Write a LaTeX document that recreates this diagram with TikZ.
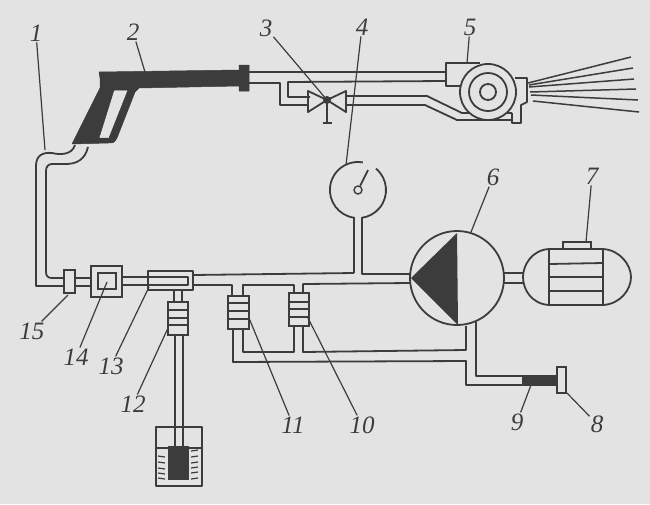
\documentclass[tikz,border=0pt]{standalone}
\usepackage{fontspec}
\setmainfont{Liberation Serif}
\definecolor{paper}{HTML}{E3E3E3}
\definecolor{ink}{HTML}{3C3C3C}
\begin{document}
\begin{tikzpicture}[
          x=1pt, y=-1pt,
          pipe/.style={draw=ink, line width=1.8pt, line join=round},
          leader/.style={draw=ink, line width=1.2pt},
          spray/.style={draw=ink, line width=1.5pt},
          partlabel/.style={text=ink, inner sep=1pt, font=\fontsize{25}{25}\selectfont\itshape},
          boxpart/.style={rectangle, draw=ink, line width=1.8pt, fill=paper, inner sep=0pt},
          darkpart/.style={fill=ink, draw=ink, line width=0.5pt, line join=round}
      ]
      \useasboundingbox[fill=paper] (0,0) rectangle (650,504);

      % Gun and hose
      \draw[darkpart, even odd rule] (99,72) -- (239,70) -- (239,65) -- (249,65) -- (249,91) -- (239,91) -- (239,86) -- (139,88) -- (135,92)
          -- (117,138) .. controls (114,143) .. (108,143) -- (72,144) -- (100,88) -- (100,78) -- cycle
          (114,90) -- (128,90) -- (109,138) -- (99,138) -- cycle;
      \draw[pipe] (75,145) .. controls (72,155) and (60,155) .. (52,153) .. controls (42,152) and (36,156) .. (36,166) -- (36,286) -- (64,286);
      \draw[pipe] (88,147) .. controls (85,160) and (76,164) .. (66,164) -- (52,164) .. controls (48,164) and (46,167) .. (46,171)
          -- (46,272) .. controls (46,276) and (48,278) .. (52,278) -- (64,278);

      % Pipes to the valve and the nozzle
      \draw[pipe] (249,72) -- (446,72);
      \draw[pipe] (249,83) -- (280,83) -- (280,105) -- (308,105);
      \draw[pipe] (446,81) -- (288,82) -- (288,97) -- (310,97);
      \draw[pipe] (346,96) -- (427,96) -- (462,113) -- (512,113);
      \draw[pipe] (346,105) -- (425,105) -- (457,120) -- (512,120);

      % Valve
      \draw[pipe] (308,91) -- (327,100) -- (308,112) -- cycle;
      \draw[pipe] (346,91) -- (327,100) -- (346,112) -- cycle;
      \draw[pipe] (327,100) -- (327,123) (323,123) -- (332,123);
      \fill[ink] (327,100) circle[radius=4];

      % Nozzle
      \draw[pipe] (463,86) -- (446,86) -- (446,63) -- (480,63);
      \draw[pipe] (515,78) -- (527,78) -- (527,102) -- (521,105) -- (521,123) -- (512,123) -- (512,113);
      \node[circle, draw=ink, line width=1.8pt, fill=paper, minimum size=56pt, inner sep=0pt] (nozzle) at (488,92) {};
      \node[circle, draw=ink, line width=1.8pt, minimum size=38pt, inner sep=0pt] (nozzlering) at (488,92) {};
      \node[circle, draw=ink, line width=1.8pt, minimum size=16pt, inner sep=0pt] (nozzlecore) at (488,92) {};

      % Spray
      \draw[spray] (528,83) -- (631,57);
      \draw[spray] (529,85) -- (633,68);
      \draw[spray] (529,87) -- (634,79);
      \draw[spray] (530,92) -- (636,89);
      \draw[spray] (531,95) -- (638,100);
      \draw[spray] (533,101) -- (639,112);

      % Gauge
      \draw[pipe] (376,168.6) arc[start angle=-50, end angle=82, radius=28];
      \draw[pipe] (354,217.7) arc[start angle=98, end angle=280, radius=28];
      \node[circle, draw=ink, line width=1.4pt, minimum size=8pt, inner sep=0pt] (gaugepin) at (358,190) {};
      \coordinate (gaugetip) at (368,170);
      \draw[pipe] (gaugepin) -- (gaugetip);
      \draw[pipe] (354,217) -- (354,273);
      \draw[pipe] (362,217) -- (362,274) -- (411,274);

      % Main line
      \draw[pipe] (75,278) -- (91,278) (75,286) -- (91,286);
      \draw[pipe] (122,277) -- (188,277) -- (188,285) -- (122,285);
      \draw[pipe] (193,275) -- (354,273);
      \draw[pipe] (193,285) -- (232,285) -- (232,296);
      \draw[pipe] (174,290) -- (174,302) (182,290) -- (182,302);
      \draw[pipe] (243,296) -- (243,285) -- (294,285) -- (294,293);
      \draw[pipe] (303,293) -- (303,284) -- (410,283);

      % Return lines
      \draw[pipe] (233,329) -- (233,362) -- (466,361) -- (466,385) -- (522,385);
      \draw[pipe] (243,329) -- (243,352) -- (294,352) -- (294,326);
      \draw[pipe] (303,326) -- (303,352) -- (466,350) -- (466,326);
      \draw[pipe] (476,322) -- (476,376) -- (522,376);

      % Inline parts
      \node[boxpart, minimum width=11pt, minimum height=23pt] (coupling) at (69.5,281.5) {};
      \node[boxpart, minimum width=31pt, minimum height=31pt] (filterbox) at (106.5,281.5) {};
      \node[boxpart, fill=none, minimum width=18pt, minimum height=16pt] (filtercore) at (107,281) {};
      \draw[pipe] (148,271) rectangle (193,290);
      \node[boxpart, minimum width=20pt, minimum height=33pt] (damperc) at (178,318.5) {};
      \draw[pipe] (168,310) -- (188,310) (168,318) -- (188,318) (168,325) -- (188,325);
      \node[boxpart, minimum width=21pt, minimum height=33pt] (damperb) at (238.5,312.5) {};
      \draw[pipe] (228,303) -- (249,303) (228,311) -- (249,311) (228,319) -- (249,319);
      \node[boxpart, minimum width=20pt, minimum height=33pt] (dampera) at (299,309.5) {};
      \draw[pipe] (289,302) -- (309,302) (289,309) -- (309,309) (289,317) -- (309,317);

      % Tank
      \draw[pipe] (175,335) -- (175,446) (183,335) -- (183,446);
      \draw[pipe] (156,427) rectangle (202,486);
      \draw[leader] (156,448) -- (168,448) (188,448) -- (202,448);
      \node[darkpart, minimum width=20pt, minimum height=33pt, inner sep=0pt] (strainer) at (178,462.5) {};
      \draw[leader] (158,456) -- (165,457) (158,462) -- (165,463) (158,468) -- (165,469) (158,473) -- (165,474) (158,478) -- (165,479);
      \draw[leader] (191,451) -- (198,450) (191,457) -- (198,456) (191,463) -- (198,462) (191,468) -- (198,467) (191,473) -- (198,472) (191,479) -- (198,478);

      % Pump
      \node[circle, draw=ink, line width=1.8pt, fill=paper, minimum size=94pt, inner sep=0pt] (pump) at (457,278) {};
      \fill[ink] (457,233) -- (458,325) -- (411,278) -- cycle;
      \draw[pipe] (503,273) -- (523,273) (503,283) -- (523,283);

      % Motor
      \draw[pipe] (549,249) -- (603,249) .. controls (620,250) and (631,265) .. (631,277) .. controls (631,290) and (620,304) .. (603,305)
          -- (549,305) .. controls (532,304) and (523,290) .. (523,277) .. controls (523,265) and (532,250) .. (549,249) -- cycle;
      \draw[pipe] (549,249) -- (549,305) (603,249) -- (603,305);
      \draw[pipe] (549,264) -- (603,263) (549,277) -- (603,277) (549,291) -- (603,291);
      \node[boxpart, minimum width=28pt, minimum height=7pt] (terminal) at (577,245.5) {};

      % Outlet
      \node[darkpart, minimum width=35pt, minimum height=10pt, inner sep=0pt] (seal) at (539.5,380) {};
      \node[boxpart, minimum width=9pt, minimum height=26pt] (plug) at (561.5,380) {};

      % Labels
      \node[partlabel] (label1) at (36,33) {1};
      \node[partlabel] (label2) at (133,32) {2};
      \node[partlabel] (label3) at (266,28) {3};
      \node[partlabel] (label4) at (362,27) {4};
      \node[partlabel] (label5) at (470,27) {5};
      \node[partlabel] (label6) at (493,177) {6};
      \node[partlabel] (label7) at (592,176) {7};
      \node[partlabel] (label8) at (597,424) {8};
      \node[partlabel] (label9) at (517,422) {9};
      \node[partlabel] (label10) at (362,425) {10};
      \node[partlabel] (label11) at (293,425) {11};
      \node[partlabel] (label12) at (133,404) {12};
      \node[partlabel] (label13) at (111,366) {13};
      \node[partlabel] (label14) at (76,357) {14};
      \node[partlabel] (label15) at (32,331) {15};

      % Leader ends
      \coordinate (end1) at (45,150);
      \coordinate (end2) at (145,72);
      \coordinate (end3) at (327,100);
      \coordinate (end4) at (346,165);
      \coordinate (end5) at (467,63);
      \coordinate (end6) at (471,232);
      \coordinate (end7) at (586,242);
      \coordinate (end8) at (567,393);
      \coordinate (end9) at (531,385);
      \coordinate (end10) at (308,318);
      \coordinate (end11) at (249,318);
      \coordinate (end12) at (168,328);
      \coordinate (end13) at (149,287);
      \coordinate (end14) at (107,282);
      \coordinate (end15) at (68,295);

      % Leaders
      \draw[leader] (label1) -- (end1);
      \draw[leader] (label2) -- (end2);
      \draw[leader] (label3) -- (end3);
      \draw[leader] (label4) -- (end4);
      \draw[leader] (label5) -- (end5);
      \draw[leader] (label6) -- (end6);
      \draw[leader] (label7) -- (end7);
      \draw[leader] (label8) -- (end8);
      \draw[leader] (label9) -- (end9);
      \draw[leader] (label10) -- (end10);
      \draw[leader] (label11) -- (end11);
      \draw[leader] (label12) -- (end12);
      \draw[leader] (label13) -- (end13);
      \draw[leader] (label14) -- (end14);
      \draw[leader] (label15) -- (end15);

      \end{tikzpicture}
\end{document}
